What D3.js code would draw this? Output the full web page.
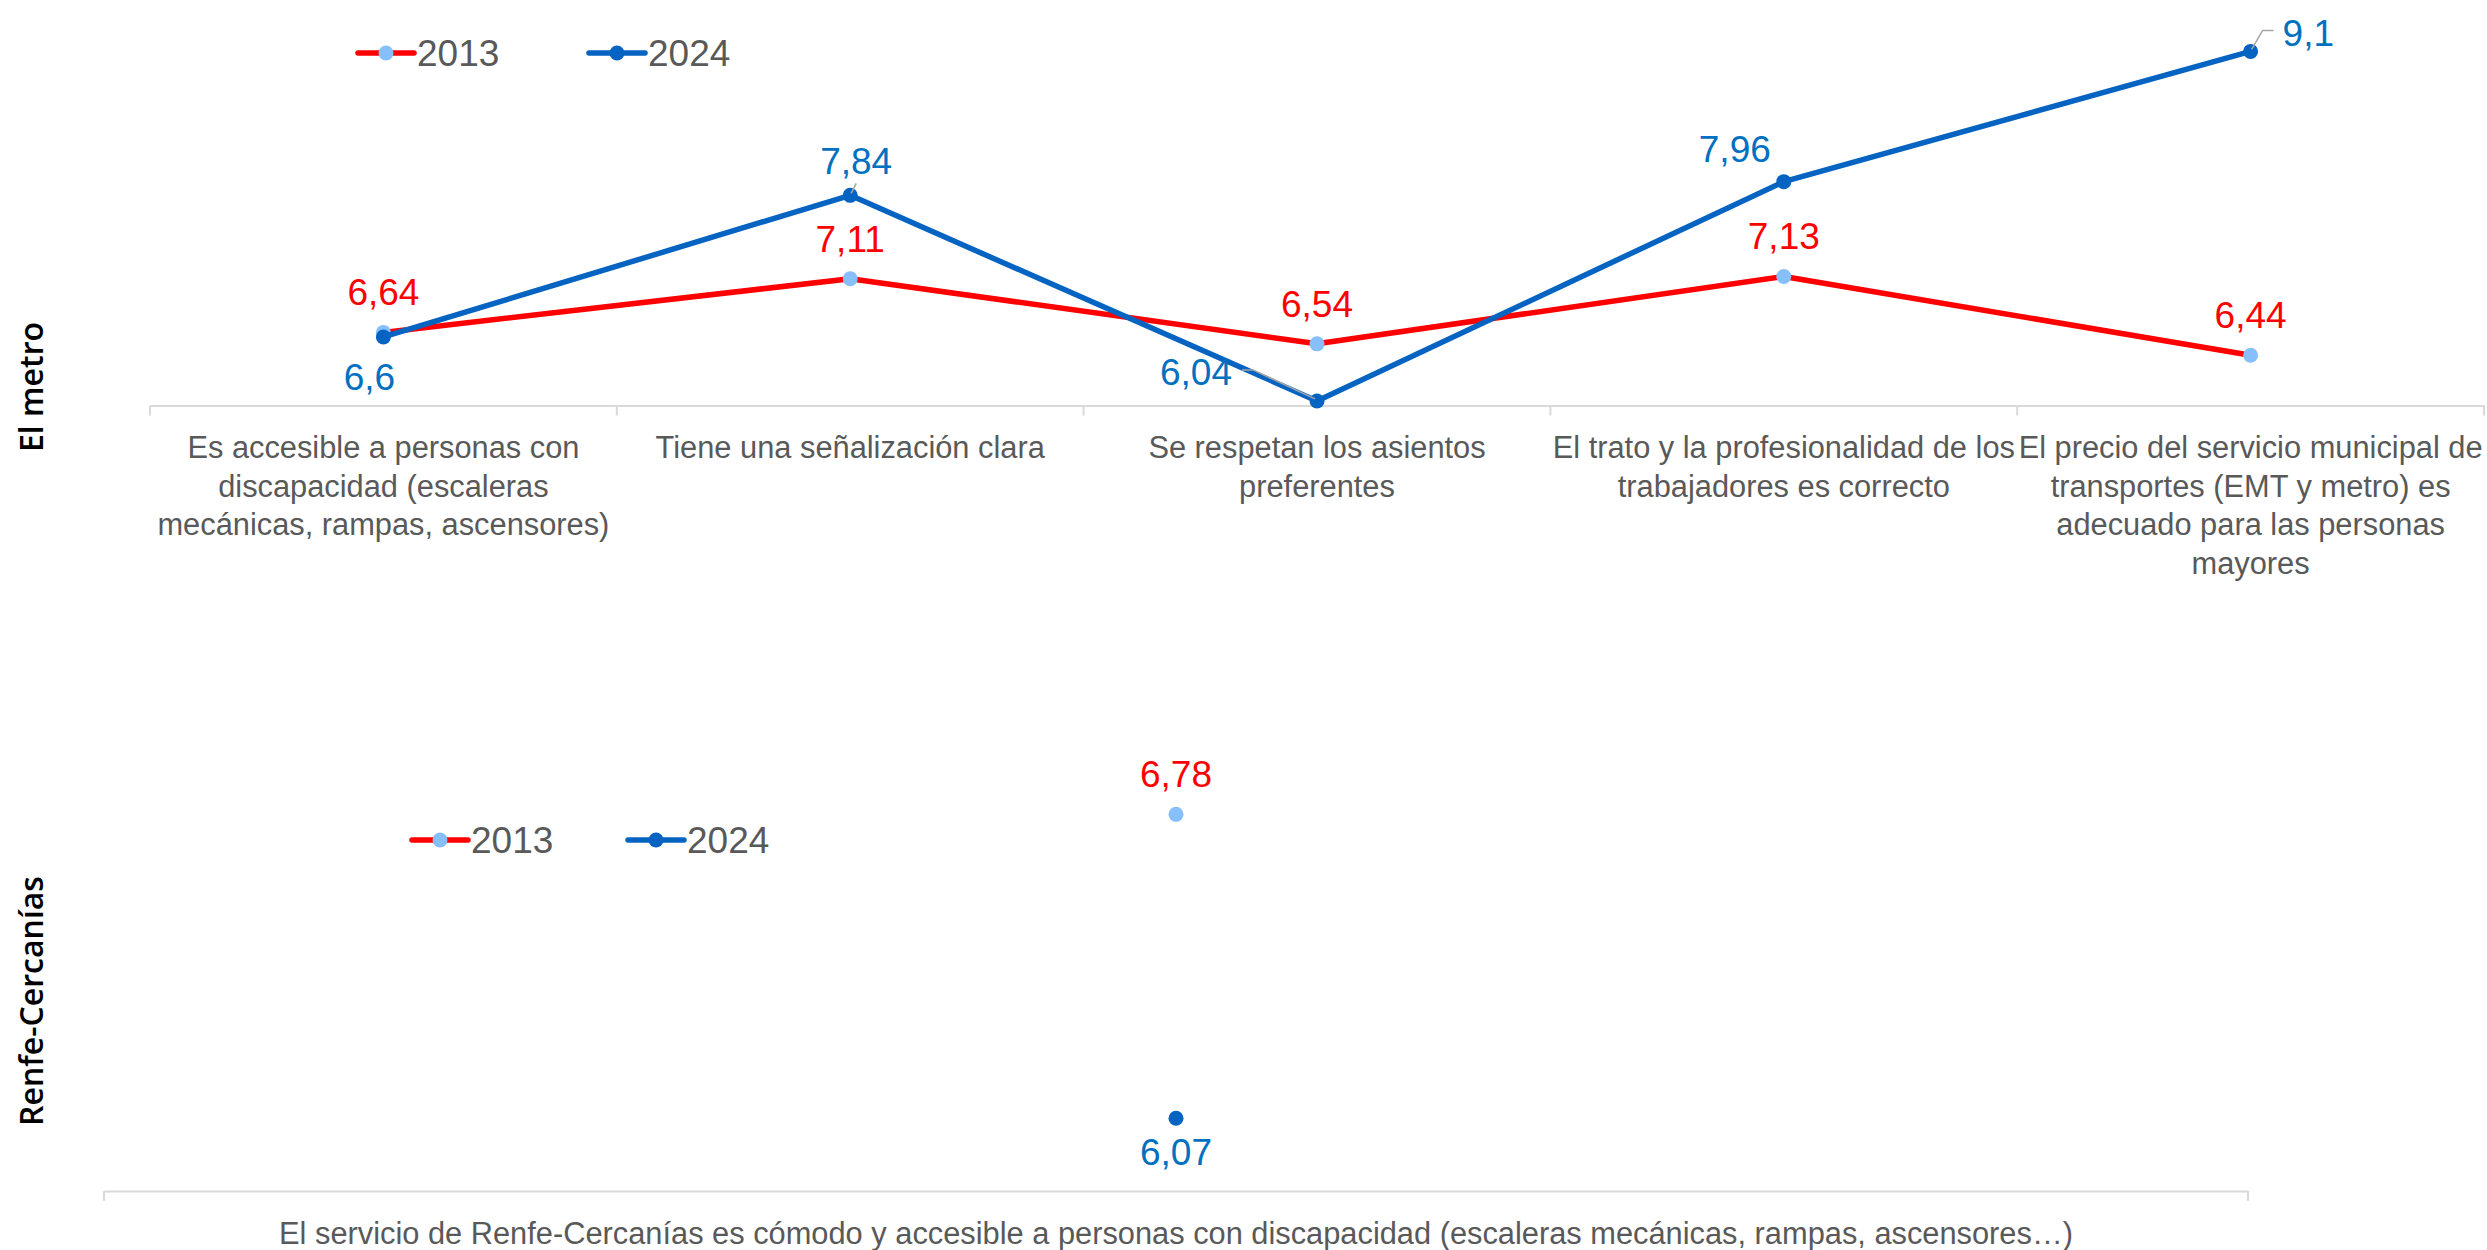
<!DOCTYPE html>
<html>
<head>
<meta charset="utf-8">
<script src="https://cdn.jsdelivr.net/npm/d3@7"></script>
<style>
  body { margin: 0; background: #fff; }
  text { font-family: "Liberation Sans", Arial, sans-serif; }
</style>
</head>
<body>
<div id="box-div"></div>
<script>
// categorias (con saltos de linea como en el original)
const metroCategories = [
    'Es accesible a personas con\ndiscapacidad (escaleras\nmecánicas, rampas, ascensores)',
    'Tiene una señalización clara',
    'Se respetan los asientos\npreferentes',
    'El trato y la profesionalidad de los\ntrabajadores es correcto',
    'El precio del servicio municipal de\ntransportes (EMT y metro) es\nadecuado para las personas\nmayores'
]
const metro2013 = [6.64, 7.11, 6.54, 7.13, 6.44]
const metro2024 = [6.6, 7.84, 6.04, 7.96, 9.1]

const renfeCategories = ['El servicio de Renfe-Cercanías es cómodo y accesible a personas con discapacidad (escaleras mecánicas, rampas, ascensores…)']
const renfe2013 = [6.78]
const renfe2024 = [6.07]

const seriesNames = ['2013', '2024']
const rowTitles = ['El metro', 'Renfe-Cercanías']

const colors = {
    line2013: '#ff0000', marker2013: '#87bffa', label2013: '#ff0000',
    line2024: '#0563c1', marker2024: '#0563c1', label2024: '#0070c0',
    axis: '#d9d9d9', text: '#595959', leader: '#a6a6a6'
}

// posicion de cada etiqueta respecto a su punto: dx, dy, anchor, leader
const above = { dx: 0, dy: -27, anchor: 'middle' }
const metroLabels2013 = [above, above, above, above, above]
const metroLabels2024 = [
    { dx: -14, dy: 53, anchor: 'middle' },
    { dx: 6, dy: -21, anchor: 'middle', leader: [[6, -12], [1, -2]] },
    { dx: -85, dy: -16, anchor: 'end', leader: [[-75, -31], [-64, -31], [-2, -2]] },
    { dx: -13, dy: -20, anchor: 'end' },
    { dx: 32, dy: -5, anchor: 'start', leader: [[23, -21], [12, -21], [1, -2]] }
]
const renfeLabels2013 = [above]
const renfeLabels2024 = [{ dx: 0, dy: 47, anchor: 'middle' }]

const svg = d3.select('#box-div').append('svg')
    .attr('width', 2487)
    .attr('height', 1250)

const drawPanel = (p) => {
    const g = svg.append('g')
    const x = d3.scaleBand()
        .domain(p.categories)
        .range(p.xRange)
        .padding(0)
    const y = d3.scaleLinear()
        .domain(p.yDomain)
        .range(p.yRange)
    const cx = d => x(d) + x.bandwidth() / 2

    // eje x
    const axis = g.append('g')
        .attr('transform', `translate(0, ${p.yRange[0]})`)
        .call(d3.axisBottom(x).tickSize(0).tickSizeOuter(0))
    axis.select('.domain').attr('stroke', colors.axis).attr('stroke-width', 2)
    axis.selectAll('.tick text').each(function (d) {
        const t = d3.select(this)
            .attr('y', 52.5)
            .attr('dy', null)
            .attr('fill', colors.text)
            .style('font-size', '30.8px')
            .style('font-family', '"Liberation Sans", Arial, sans-serif')
            .text(null)
        d.split('\n').forEach((line, i) => {
            t.append('tspan')
                .attr('x', 0)
                .attr('dy', i === 0 ? 0 : 38.6)
                .text(line)
        })
    })
    // marcas entre categorias
    const bounds = p.categories.map(d => x(d)).concat([p.xRange[1]])
    g.selectAll('.tick-mark')
        .data(bounds)
        .enter()
        .append('line')
        .attr('x1', d => d).attr('x2', d => d)
        .attr('y1', p.yRange[0]).attr('y2', p.yRange[0] + 10)
        .attr('stroke', colors.axis)
        .attr('stroke-width', 2)

    const series = [
        { name: seriesNames[0], values: p.v2013, line: colors.line2013, marker: colors.marker2013, label: colors.label2013, pos: p.l2013 },
        { name: seriesNames[1], values: p.v2024, line: colors.line2024, marker: colors.marker2024, label: colors.label2024, pos: p.l2024 }
    ]
    const lineGen = d3.line()
        .x(d => cx(d.cat))
        .y(d => y(d.v))

    series.forEach(s => {
        const pts = s.values.map((v, i) => ({ cat: p.categories[i], v: v, pos: s.pos[i] }))
        if (pts.length > 1) {
            g.append('path')
                .datum(pts)
                .attr('d', lineGen)
                .attr('fill', 'none')
                .attr('stroke', s.line)
                .attr('stroke-width', 5.5)
                .attr('stroke-linejoin', 'round')
        }
        g.selectAll(null)
            .data(pts)
            .enter()
            .append('circle')
            .attr('cx', d => cx(d.cat))
            .attr('cy', d => y(d.v))
            .attr('r', 7.5)
            .attr('fill', s.marker)
        // lineas guia
        pts.filter(d => d.pos.leader).forEach(d => {
            const px = cx(d.cat), py = y(d.v)
            g.append('polyline')
                .attr('points', d.pos.leader.map(q => `${px + q[0]},${py + q[1]}`).join(' '))
                .attr('fill', 'none')
                .attr('stroke', colors.leader)
                .attr('stroke-width', 1.5)
        })
        g.selectAll(null)
            .data(pts)
            .enter()
            .append('text')
            .attr('x', d => cx(d.cat) + d.pos.dx)
            .attr('y', d => y(d.v) + d.pos.dy)
            .attr('text-anchor', d => d.pos.anchor)
            .attr('fill', s.label)
            .style('font-size', '37px')
            .text(d => String(d.v).replace('.', ','))
    })

    // leyenda
    const legend = g.selectAll('.legend')
        .data(series)
        .enter()
        .append('g')
        .attr('transform', (d, i) => `translate(${p.legendX + i * p.legendGap}, ${p.legendY})`)
    legend.append('line')
        .attr('x1', 0).attr('x2', 56)
        .attr('stroke', d => d.line)
        .attr('stroke-width', 5.5)
        .attr('stroke-linecap', 'round')
    legend.append('circle')
        .attr('cx', 28)
        .attr('r', 7.5)
        .attr('fill', d => d.marker)
    legend.append('text')
        .attr('x', 59)
        .attr('y', 13)
        .attr('fill', colors.text)
        .style('font-size', '37px')
        .text(d => d.name)

    // titulo de fila
    svg.append('text')
        .attr('transform', `translate(43, ${p.titleY}) rotate(-90)`)
        .attr('text-anchor', 'middle')
        .style('font-family', '"Open Sans", sans-serif')
        .style('font-weight', 600)
        .style('font-size', '32px')
        .attr('fill', '#000')
        .text(p.title)
}

drawPanel({
    categories: metroCategories, v2013: metro2013, v2024: metro2024,
    l2013: metroLabels2013, l2024: metroLabels2024,
    xRange: [150, 2484], yDomain: [6, 9.2], yRange: [405.5, 40],
    legendX: 358, legendY: 53, legendGap: 231,
    title: rowTitles[0], titleY: 387
})

drawPanel({
    categories: renfeCategories, v2013: renfe2013, v2024: renfe2024,
    l2013: renfeLabels2013, l2024: renfeLabels2024,
    xRange: [104, 2248], yDomain: [5.9, 6.9], yRange: [1191, 763],
    legendX: 412, legendY: 840, legendGap: 216,
    title: rowTitles[1], titleY: 1001
})
</script>
</body>
</html>
